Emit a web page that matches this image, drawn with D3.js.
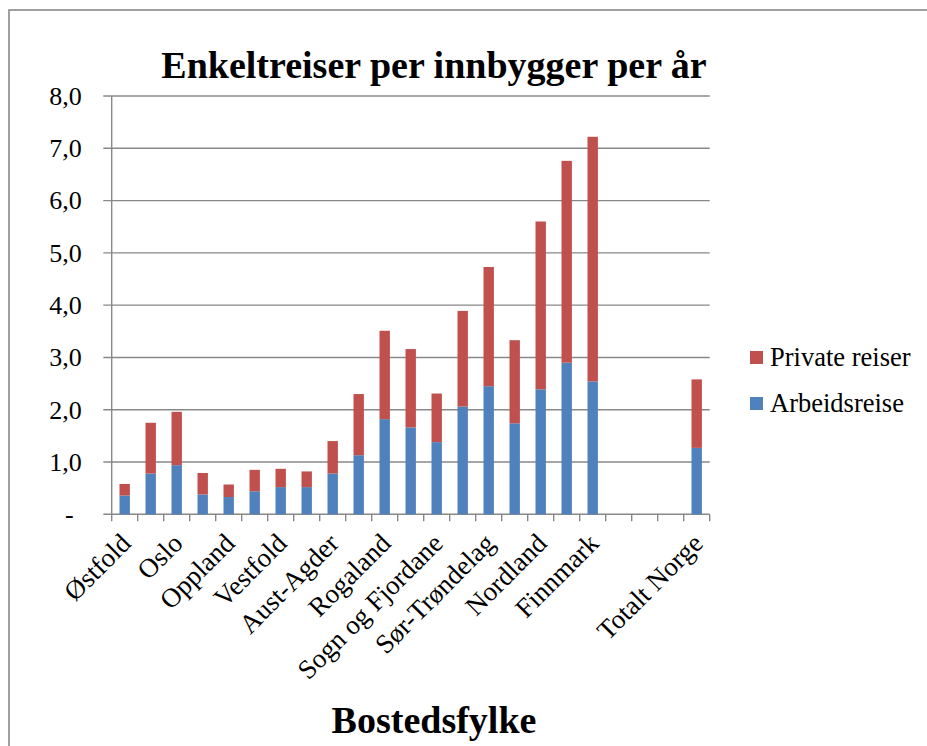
<!DOCTYPE html>
<html>
<head>
<meta charset="utf-8">
<script src="https://cdn.jsdelivr.net/npm/d3@7"></script>
<style>
  html, body { margin: 0; padding: 0; background: #fff; }
  svg { display: block; font-family: "Liberation Serif", "Times New Roman", serif; }
</style>
</head>
<body>
<svg id="chart" width="927" height="746"></svg>
<script>
// ---- data ----
const categories = ["Østfold","Akershus","Oslo","Hedmark","Oppland","Buskerud","Vestfold","Telemark",
  "Aust-Agder","Vest-Agder","Rogaland","Hordaland","Sogn og Fjordane","Møre og Romsdal",
  "Sør-Trøndelag","Nord-Trøndelag","Nordland","Troms","Finnmark","","","","Totalt Norge"];
const arbeidsreise = [0.36,0.78,0.94,0.38,0.33,0.44,0.52,0.52,0.78,1.13,1.82,1.66,1.38,2.06,2.45,1.74,2.39,2.90,2.54,0,0,0,1.27];
const privateReiser = [0.22,0.97,1.02,0.41,0.24,0.41,0.35,0.30,0.62,1.17,1.69,1.50,0.93,1.83,2.28,1.59,3.21,3.86,4.68,0,0,0,1.31];
const yTicks = [0,1,2,3,4,5,6,7,8];
const yTickLabels = ["-","1,0","2,0","3,0","4,0","5,0","6,0","7,0","8,0"];
const seriesNames = ["Private reiser","Arbeidsreise"];
const seriesColors = ["#C0504D","#4F81BD"];

const FONT = "Liberation Serif, Times New Roman, serif";
const svg = d3.select("#chart");

// frame
svg.append("rect").attr("x", 9).attr("y", 10).attr("width", 960).attr("height", 780)
  .attr("fill", "none").attr("stroke", "#898989").attr("stroke-width", 1.6);

const x = d3.scaleBand().domain(d3.range(categories.length)).range([111.7, 709.7])
  .paddingInner(0.6).paddingOuter(0.3);
const y = d3.scaleLinear().domain([0, 8]).range([514.3, 96]);

const gridColor = "#888888";

// gridlines
svg.append("g").selectAll("line").data(yTicks).join("line")
  .attr("x1", 103.3).attr("x2", 709.7)
  .attr("y1", d => y(d)).attr("y2", d => y(d))
  .attr("stroke", gridColor).attr("stroke-width", 1.4);

// y axis line
svg.append("line").attr("x1", 111.7).attr("x2", 111.7).attr("y1", y(8)).attr("y2", y(0))
  .attr("stroke", gridColor).attr("stroke-width", 1.4);

// y labels
const yAxis = d3.axisLeft(y).tickValues(yTicks).tickSize(0).tickPadding(30)
  .tickFormat((d, i) => yTickLabels[i]);
const gy = svg.append("g").attr("transform", "translate(111.7,0)").call(yAxis);
gy.select(".domain").remove();
gy.attr("font-family", FONT);
gy.selectAll("text").attr("font-size", 26).attr("fill", "#000")
  .attr("font-family", FONT)
  .attr("dx", d => d === 0 ? -8 : 0);

// x ticks at category boundaries
const step = x.step();
const boundaries = d3.range(categories.length + 1).map(i =>
  i < categories.length ? x(i) - (step - x.bandwidth()) / 2 : x(categories.length - 1) + x.bandwidth() + (step - x.bandwidth()) / 2);
svg.append("g").selectAll("line").data(boundaries).join("line")
  .attr("x1", d => d).attr("x2", d => d).attr("y1", y(0)).attr("y2", y(0) + 7)
  .attr("stroke", gridColor).attr("stroke-width", 1.4);

// stacked bars
const stackData = categories.map((c, i) => ({ i, arbeid: arbeidsreise[i], priv: privateReiser[i] }));
const stack = d3.stack().keys(["arbeid", "priv"]);
const layers = stack(stackData);
const layerColors = ["#4F81BD", "#C0504D"];
svg.append("g").selectAll("g").data(layers).join("g")
  .attr("fill", (d, k) => layerColors[k])
  .selectAll("rect").data(d => d.filter(s => s[1] - s[0] > 0)).join("rect")
  .attr("x", d => x(d.data.i)).attr("width", x.bandwidth())
  .attr("y", d => y(d[1])).attr("height", d => y(d[0]) - y(d[1]));

// x labels
const xAxis = d3.axisBottom(x).tickSize(0).tickFormat(i => (i % 2 === 0 ? categories[i] : ""));
const gx = svg.append("g").attr("transform", `translate(0,${y(0)})`).call(xAxis);
gx.select(".domain").remove();
gx.attr("font-family", FONT);
gx.selectAll(".tick text")
  .attr("font-size", 27).attr("fill", "#000")
  .attr("font-family", FONT)
  .attr("text-anchor", "end")
  .attr("x", 0).attr("y", 0).attr("dy", "0.35em")
  .attr("transform", "translate(1,24) rotate(-45)");

// title
svg.append("text").attr("x", 434).attr("y", 78).attr("text-anchor", "middle")
  .attr("font-size", 38).attr("font-weight", "bold").attr("fill", "#000")
  .text("Enkeltreiser per innbygger per år");

// x axis title
svg.append("text").attr("x", 434).attr("y", 733).attr("text-anchor", "middle")
  .attr("font-size", 38).attr("font-weight", "bold").attr("fill", "#000")
  .text("Bostedsfylke");

// legend
const legend = svg.append("g").attr("transform", "translate(750,351)").attr("font-family", FONT);
const li = legend.selectAll("g").data(seriesNames).join("g")
  .attr("transform", (d, i) => `translate(0,${i * 46})`);
li.append("rect").attr("width", 13).attr("height", 13).attr("fill", (d, i) => seriesColors[i]);
li.append("text").attr("x", 20).attr("y", 15).attr("font-size", 26.5).attr("fill", "#000").text(d => d);
</script>
</body>
</html>
